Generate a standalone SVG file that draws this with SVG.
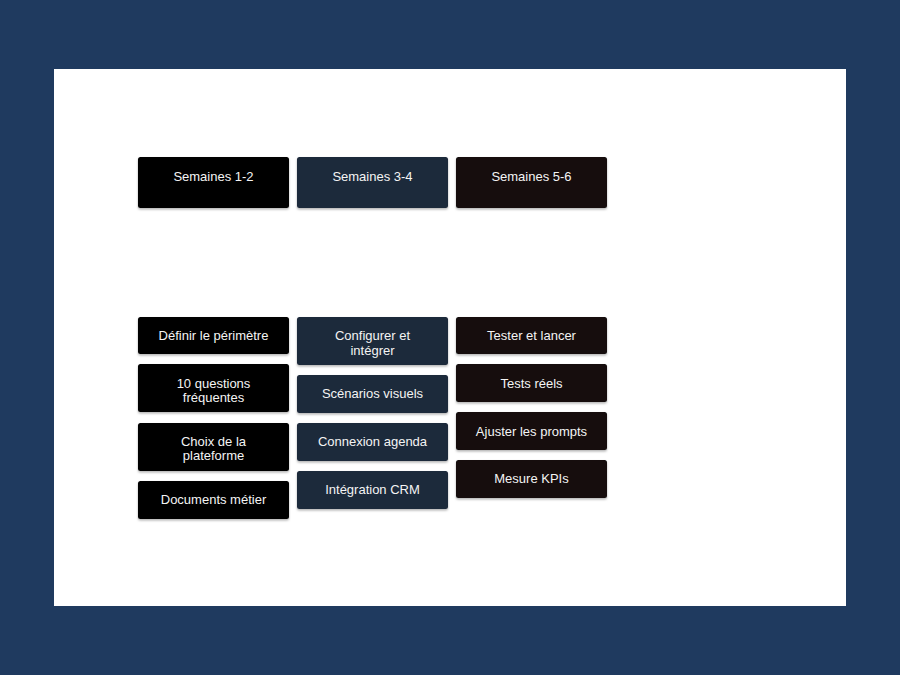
<svg xmlns="http://www.w3.org/2000/svg" width="900" height="675" viewBox="0 0 900 675">
<defs>
<filter id="sh" x="-5%" y="-10%" width="110%" height="130%">
<feDropShadow dx="0" dy="1.5" stdDeviation="0.8" flood-color="#000" flood-opacity="0.3"/>
</filter>
</defs>
<style>
.b{filter:url(#sh)}
.c1{fill:#000000}
.c2{fill:#1e293b}
.c3{fill:#15100b}
text{font-family:"Liberation Sans",Arial,sans-serif;font-size:13px;fill:#f4f4f4;text-anchor:middle}
</style>
<rect x="0" y="0" width="900" height="675" fill="#1f3a5f"/>
<rect x="54" y="69" width="792" height="537" fill="#ffffff"/>
<g id="connectors"></g>
<g id="h1"><rect class="b c1" x="138" y="157" width="151" height="51" rx="2.5"/><text x="213.5" y="181">Semaines 1-2</text></g>
<g id="h2"><rect class="b c2" x="297" y="157" width="151" height="51" rx="2.5"/><text x="372.5" y="181">Semaines 3-4</text></g>
<g id="h3"><rect class="b c3" x="456" y="157" width="151" height="51" rx="2.5"/><text x="531.5" y="181">Semaines 5-6</text></g>

<g id="n1a"><rect class="b c1" x="138" y="317" width="151" height="37" rx="2.5"/><text x="213.5" y="340">Définir le périmètre</text></g>
<g id="n1b"><rect class="b c1" x="138" y="364" width="151" height="48" rx="2.5"/><text x="213.5" y="387.5">10 questions</text><text x="213.5" y="401.5">fréquentes</text></g>
<g id="n1c"><rect class="b c1" x="138" y="423" width="151" height="48" rx="2.5"/><text x="213.5" y="445.5">Choix de la</text><text x="213.5" y="460">plateforme</text></g>
<g id="n1d"><rect class="b c1" x="138" y="481" width="151" height="38" rx="2.5"/><text x="213.5" y="504">Documents métier</text></g>

<g id="n2a"><rect class="b c2" x="297" y="317" width="151" height="48" rx="2.5"/><text x="372.5" y="340">Configurer et</text><text x="372.5" y="354.5">intégrer</text></g>
<g id="n2b"><rect class="b c2" x="297" y="375" width="151" height="38" rx="2.5"/><text x="372.5" y="398">Scénarios visuels</text></g>
<g id="n2c"><rect class="b c2" x="297" y="423" width="151" height="38" rx="2.5"/><text x="372.5" y="446">Connexion agenda</text></g>
<g id="n2d"><rect class="b c2" x="297" y="471" width="151" height="38" rx="2.5"/><text x="372.5" y="493.5">Intégration CRM</text></g>

<g id="n3a"><rect class="b c3" x="456" y="317" width="151" height="37" rx="2.5"/><text x="531.5" y="340">Tester et lancer</text></g>
<g id="n3b"><rect class="b c3" x="456" y="364" width="151" height="38" rx="2.5"/><text x="531.5" y="387.5">Tests réels</text></g>
<g id="n3c"><rect class="b c3" x="456" y="412" width="151" height="38" rx="2.5"/><text x="531.5" y="435.5">Ajuster les prompts</text></g>
<g id="n3d"><rect class="b c3" x="456" y="460" width="151" height="38" rx="2.5"/><text x="531.5" y="483">Mesure KPIs</text></g>
</svg>
